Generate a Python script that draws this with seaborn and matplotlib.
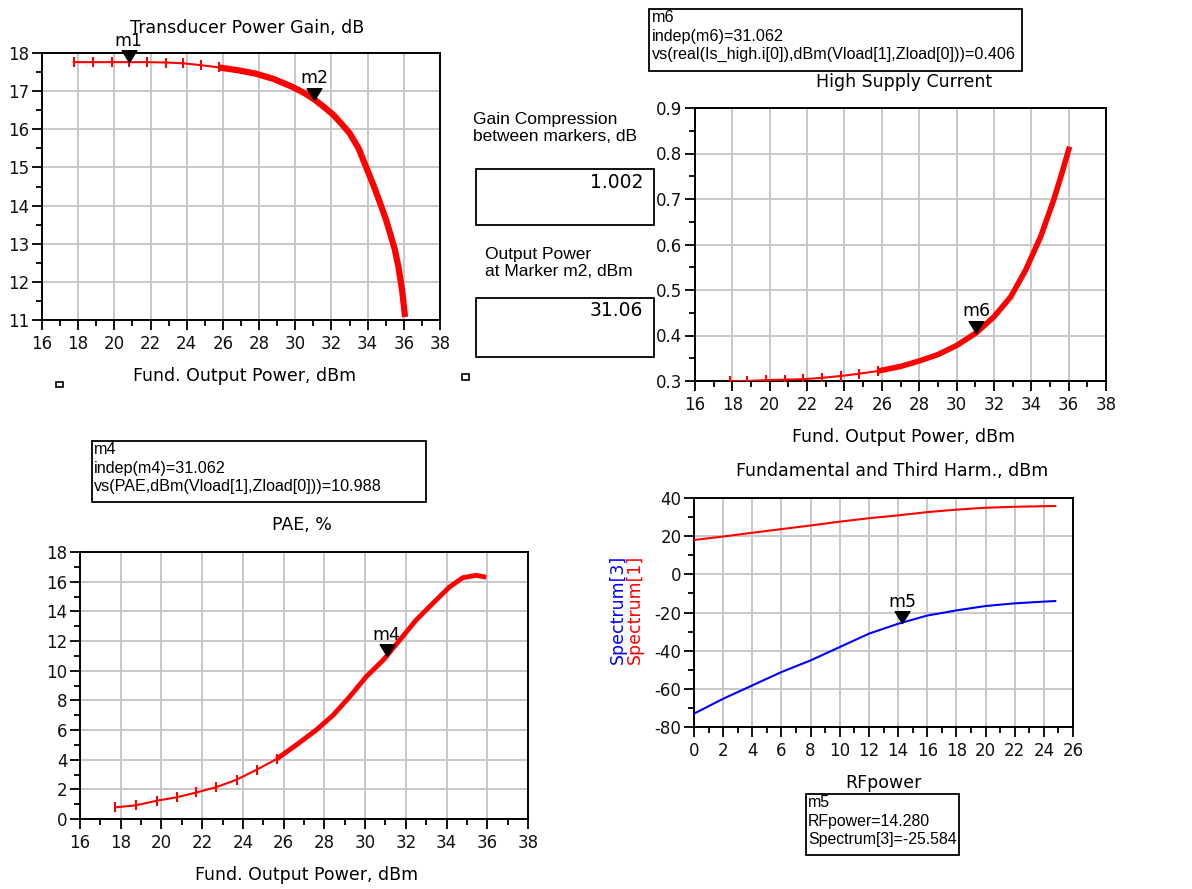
import matplotlib
matplotlib.use('Agg')
import matplotlib.pyplot as plt
import seaborn as sns
from matplotlib.path import Path
from matplotlib.patches import Rectangle
from matplotlib.ticker import MultipleLocator, FuncFormatter

# ---------------- data ----------------
# Transducer power gain (dB) vs fundamental output power (dBm)
gain_sparse_x = [17.75, 18.8, 19.85, 20.8, 21.8, 22.85, 23.8, 24.8, 25.8]
gain_sparse_y = [17.76, 17.76, 17.76, 17.76, 17.76, 17.75, 17.73, 17.68, 17.62]
gain_dense_x = [25.8, 26.8, 27.8, 28.8, 29.8, 30.5, 31.06, 31.6, 32.1, 32.6, 33.0,
                33.5, 33.95, 34.35, 34.7, 35.0, 35.25, 35.5, 35.7, 35.9, 36.07]
gain_dense_y = [17.62, 17.55, 17.46, 17.32, 17.12, 16.95, 16.78, 16.58, 16.38, 16.12, 15.9,
                15.5, 14.97, 14.5, 14.05, 13.65, 13.26, 12.85, 12.4, 11.8, 11.08]

# High supply current (A)
cur_sparse_x = [17.9, 18.8, 19.8, 20.8, 21.8, 22.8, 23.8, 24.8, 25.8]
cur_sparse_y = [0.300, 0.300, 0.302, 0.303, 0.304, 0.307, 0.311, 0.316, 0.322]
cur_dense_x = [25.8, 27.0, 28.0, 29.0, 30.0, 31.06, 32.0, 32.9, 33.7, 34.5, 35.2, 35.64, 36.05]
cur_dense_y = [0.322, 0.332, 0.344, 0.358, 0.378, 0.406, 0.441, 0.485, 0.544, 0.617, 0.698, 0.757, 0.815]

# PAE (%)
pae_sparse_x = [17.72, 18.73, 19.76, 20.74, 21.72, 22.7, 23.69, 24.67, 25.65]
pae_sparse_y = [0.78, 0.92, 1.23, 1.46, 1.79, 2.15, 2.65, 3.32, 4.04]
pae_dense_x = [25.65, 26.63, 27.6, 28.43, 29.25, 30.06, 30.88, 31.06, 31.7, 32.5,
               33.3, 34.15, 34.8, 35.46, 35.95]
pae_dense_y = [4.04, 5.0, 6.0, 7.0, 8.25, 9.6, 10.7, 10.99, 12.06, 13.4,
               14.5, 15.65, 16.27, 16.43, 16.3]

# Spectrum vs RF power
rf_power = [0, 2, 4, 6, 8, 10, 12, 14, 16, 18, 20, 22, 24, 24.8]
spectrum1 = [18.0, 19.8, 21.8, 23.7, 25.6, 27.6, 29.4, 30.9, 32.6, 33.9, 34.9, 35.4, 35.7, 35.8]
spectrum3 = [-73.0, -65.2, -58.2, -51.2, -45.1, -38.1, -31.1, -25.9, -21.6, -18.9, -16.6, -15.2, -14.3, -14.0]

# markers
m1 = (20.8, 17.76)
m2 = (31.06, 16.78)
m6 = (31.062, 0.406)
m4 = (31.062, 10.988)
m5 = (14.28, -25.584)

gain_comp = "1.002"
pout_m2 = "31.06"

m6_text = "m6\nindep(m6)=31.062\nvs(real(Is_high.i[0]),dBm(Vload[1],Zload[0]))=0.406"
m4_text = "m4\nindep(m4)=31.062\nvs(PAE,dBm(Vload[1],Zload[0]))=10.988"
m5_text = "m5\nRFpower=14.280\nSpectrum[3]=-25.584"

# ---------------- style ----------------
W, H = 1192, 889
sns.set_theme(style='white')
plt.rcParams['font.family'] = ['DejaVu Sans']
plt.rcParams['axes.unicode_minus'] = False
plt.rcParams['text.color'] = 'black'

RED = '#ff0000'
BLUE = '#0000ff'
GRID = '#c8c8c8'
BOXFONT = ['Liberation Sans', 'DejaVu Sans']
TRI = Path([(-1, 1.6), (1, 1.6), (0, 0), (-1, 1.6)], [1, 2, 2, 79])

fig = plt.figure(figsize=(W / 100, H / 100), dpi=100)


def fx(x):
    return x / W


def fy(y):
    return 1 - y / H


def ax_px(l, t, r, b):
    return fig.add_axes([l / W, 1 - b / H, (r - l) / W, (b - t) / H])


def style(ax, xlim, xmaj, xmin, ylim, ymaj, ymin, yfmt=None):
    ax.set_xlim(xlim)
    ax.set_ylim(ylim)
    ax.xaxis.set_major_locator(MultipleLocator(xmaj))
    ax.xaxis.set_minor_locator(MultipleLocator(xmin))
    ax.yaxis.set_major_locator(MultipleLocator(ymaj))
    ax.yaxis.set_minor_locator(MultipleLocator(ymin))
    if yfmt is not None:
        ax.yaxis.set_major_formatter(FuncFormatter(yfmt))
    ax.xaxis.set_major_formatter(FuncFormatter(lambda v, p: f"{v:g}"))
    ax.grid(True, which='major', color=GRID, lw=1.4)
    ax.set_axisbelow(True)
    for s in ax.spines.values():
        s.set_visible(True)
        s.set_color('black')
        s.set_linewidth(1.4)
    ax.tick_params(which='both', bottom=True, left=True, top=False, right=False,
                   direction='out', color='black', width=1.3)
    ax.tick_params(which='major', length=7, labelsize=12, labelcolor='#111111')
    ax.tick_params(axis='x', which='major', pad=4)
    ax.tick_params(axis='y', which='major', pad=2)
    ax.tick_params(which='minor', length=4)
    ax.set_xlabel('')
    ax.set_ylabel('')
    ax.set_facecolor('white')


def mark(ax, pt, label):
    ax.plot([pt[0]], [pt[1]], marker=TRI, ms=17, color='black', clip_on=False, zorder=6, lw=0)
    ax.annotate(label, pt, xytext=(0, 9), textcoords='offset points', ha='center', va='bottom',
                fontsize=12.5, annotation_clip=False, zorder=7)


def rect(l, t, r, b, lw=1.3, fill=False):
    fig.add_artist(Rectangle((fx(l), fy(b)), (r - l) / W, (b - t) / H, transform=fig.transFigure,
                             fill=fill, facecolor='white', edgecolor='black', lw=lw))


def sparse_line(ax, x, y, color=RED):
    sns.lineplot(x=x, y=y, ax=ax, color=color, lw=1.5, marker='|', markersize=7,
                 markeredgewidth=1.5, markeredgecolor=color, sort=False, estimator=None, zorder=3)


def dense_line(ax, x, y, lw):
    sns.lineplot(x=x, y=y, ax=ax, color=RED, lw=lw, sort=False, estimator=None, zorder=3,
                 solid_capstyle='butt')


# ---------------- top-left: gain ----------------
ax1 = ax_px(42, 53, 440, 320)
sparse_line(ax1, gain_sparse_x, gain_sparse_y)
dense_line(ax1, gain_dense_x, gain_dense_y, 4.5)
style(ax1, (16, 38), 2, 1, (11, 18), 1, 0.5, yfmt=lambda v, p: f"{v:g}")
mark(ax1, m1, 'm1')
mark(ax1, m2, 'm2')
fig.text(fx(247), fy(28), 'Transducer Power Gain, dB', ha='center', va='center', fontsize=12.5)
fig.text(fx(245), fy(376), 'Fund. Output Power, dBm', ha='center', va='center', fontsize=12.5)

# ---------------- top-right: current ----------------
ax2 = ax_px(695, 108, 1106, 381)
sparse_line(ax2, cur_sparse_x, cur_sparse_y)
dense_line(ax2, cur_dense_x, cur_dense_y, 4)
style(ax2, (16, 38), 2, 1, (0.3, 0.9), 0.1, 0.05, yfmt=lambda v, p: f"{v:.1f}")
mark(ax2, m6, 'm6')
fig.text(fx(904), fy(82), 'High Supply Current', ha='center', va='center', fontsize=12.5)
fig.text(fx(904), fy(437), 'Fund. Output Power, dBm', ha='center', va='center', fontsize=12.5)

# ---------------- bottom-left: PAE ----------------
ax3 = ax_px(80, 552, 528, 819)
sparse_line(ax3, pae_sparse_x, pae_sparse_y)
dense_line(ax3, pae_dense_x, pae_dense_y, 3.5)
style(ax3, (16, 38), 2, 1, (0, 18), 2, 1, yfmt=lambda v, p: f"{v:g}")
mark(ax3, m4, 'm4')
fig.text(fx(302), fy(525), 'PAE, %', ha='center', va='center', fontsize=12.5)
fig.text(fx(307), fy(875), 'Fund. Output Power, dBm', ha='center', va='center', fontsize=12.5)

# ---------------- bottom-right: spectrum ----------------
ax4 = ax_px(694, 498, 1073, 727)
sns.lineplot(x=rf_power, y=spectrum1, ax=ax4, color=RED, lw=1.5, sort=False, estimator=None, zorder=3)
sns.lineplot(x=rf_power, y=spectrum3, ax=ax4, color=BLUE, lw=1.5, sort=False, estimator=None, zorder=3)
style(ax4, (0, 26), 2, 1, (-80, 40), 20, 10, yfmt=lambda v, p: f"{v:g}")
mark(ax4, m5, 'm5')
fig.text(fx(892), fy(471), 'Fundamental and Third Harm., dBm', ha='center', va='center', fontsize=12.5)
fig.text(fx(883), fy(783), 'RFpower', ha='center', va='center', fontsize=12.5)
fig.text(fx(618), fy(609), 'Spectrum[3]', rotation=90, ha='center', va='center', fontsize=12.5, color=BLUE)
fig.text(fx(635), fy(609), 'Spectrum[1]', rotation=90, ha='center', va='center', fontsize=12.5, color=RED)

# ---------------- marker readout boxes ----------------
rect(649, 9, 1022, 71)
fig.text(fx(652), fy(10), m6_text, ha='left', va='top', fontsize=11.6, linespacing=1.3,
         family=BOXFONT)
rect(92, 441, 426, 502)
fig.text(fx(94), fy(442), m4_text, ha='left', va='top', fontsize=11.6, linespacing=1.3,
         family=BOXFONT)
rect(806, 794, 959, 855)
fig.text(fx(808), fy(795), m5_text, ha='left', va='top', fontsize=11.4, linespacing=1.3,
         family=BOXFONT)

# ---------------- equation boxes ----------------
fig.text(fx(473), fy(128), 'Gain Compression\nbetween markers, dB', ha='left', va='center',
         fontsize=12.5, linespacing=1.1, family=BOXFONT)
rect(476, 169, 654, 225)
fig.text(fx(643), fy(182), gain_comp, ha='right', va='center', fontsize=13.5)
fig.text(fx(485), fy(263), 'Output Power\nat Marker m2, dBm', ha='left', va='center',
         fontsize=12.5, linespacing=1.1, family=BOXFONT)
rect(476, 298, 654, 357)
fig.text(fx(643), fy(310), pout_m2, ha='right', va='center', fontsize=13.5)

# small selection handles
rect(56, 382, 63, 387, lw=1.2)
rect(462, 374, 469, 380, lw=1.2, fill=True)

fig.savefig('out.png', dpi=100, facecolor='white')
